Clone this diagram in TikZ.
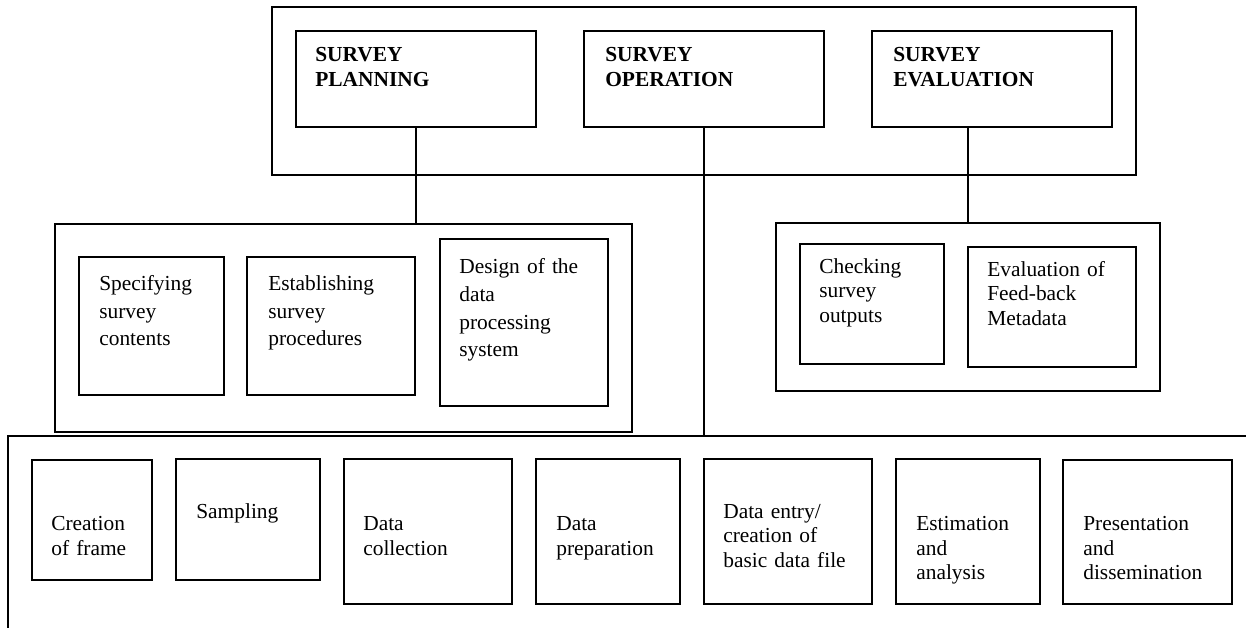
\documentclass[tikz,border=0pt]{standalone}
\usepackage{fontspec}
\setmainfont{Liberation Serif}
\usetikzlibrary{calc}

\begin{document}
\begin{tikzpicture}[x=1pt, y=-1pt,
    box/.style={draw, line width=1.8pt, inner sep=0pt},
    txt/.style={anchor=base west, inner sep=0pt, text width=200pt, align=left,
      font=\fontsize{21.4}{24.5}\selectfont},
    loose/.style={txt, font=\fontsize{21.4}{27.6}\selectfont},
    head/.style={txt, font=\fontsize{21.4}{24.7}\selectfont\bfseries}]
    \clip (0,0) rectangle (1246,627);

    % top level
    \node[box, minimum width=864pt, minimum height=168pt] (top) at (704,91) {};
    \node[box, minimum width=240pt, minimum height=96pt] (plan) at (416,79) {};
    \node[box, minimum width=240pt, minimum height=96pt] (oper) at (704,79) {};
    \node[box, minimum width=240pt, minimum height=96pt] (eval) at (992,79) {};
    \node[head] (planT) at ([shift={(20,31.7)}]plan.north west) {SURVEY\\PLANNING};
    \node[head] (operT) at ([shift={(22,31.7)}]oper.north west) {SURVEY\\OPERATION};
    \node[head] (evalT) at ([shift={(22,31.7)}]eval.north west) {SURVEY\\EVALUATION};

    % planning group
    \node[box, minimum width=577pt, minimum height=208pt] (lbox) at (343.5,328) {};
    \node[box, minimum width=145pt, minimum height=138pt] (spec) at (151.5,326) {};
    \node[box, minimum width=168pt, minimum height=138pt] (estab) at (331,326) {};
    \node[box, minimum width=168pt, minimum height=167pt] (design) at (524,322.5) {};
    \node[loose] (specT) at ([shift={(21,34.6)}]spec.north west) {Specifying\\survey\\contents};
    \node[loose] (estabT) at ([shift={(22,34.6)}]estab.north west) {Establishing\\survey\\procedures};
    \node[loose] (designT) at ([shift={(20,35.7)}]design.north west) {Design of the\\data\\processing\\system};

    % evaluation group
    \node[box, minimum width=384pt, minimum height=168pt] (rbox) at (968,307) {};
    \node[box, minimum width=144pt, minimum height=120pt] (check) at (872,304) {};
    \node[box, minimum width=168pt, minimum height=120pt] (feed) at (1052,307) {};
    \node[txt] (checkT) at ([shift={(20,30.3)}]check.north west) {Checking\\survey\\outputs};
    \node[txt] (feedT) at ([shift={(20,30.3)}]feed.north west) {Evaluation of\\Feed-back\\Metadata};

    % operation group
    \node[box, minimum width=1300pt, minimum height=300pt] (bbox) at (658,586) {};
    \node[box, minimum width=120pt, minimum height=120pt] (creat) at (92,520) {};
    \node[box, minimum width=144pt, minimum height=121pt] (samp) at (248,519.5) {};
    \node[box, minimum width=168pt, minimum height=145pt] (coll) at (428,531.5) {};
    \node[box, minimum width=144pt, minimum height=145pt] (prep) at (608,531.5) {};
    \node[box, minimum width=168pt, minimum height=145pt] (entry) at (788,531.5) {};
    \node[box, minimum width=144pt, minimum height=145pt] (estim) at (968,531.5) {};
    \node[box, minimum width=169pt, minimum height=144pt] (pres) at (1147.5,532) {};
    \node[txt] (creatT) at ([shift={(20,71.7)}]creat.north west) {Creation\\of frame};
    \node[txt] (sampT) at ([shift={(21,60)}]samp.north west) {Sampling};
    \node[txt] (collT) at ([shift={(20,72.7)}]coll.north west) {Data\\collection};
    \node[txt] (prepT) at ([shift={(21,72.7)}]prep.north west) {Data\\preparation};
    \node[txt] (entryT) at ([shift={(20,60)}]entry.north west) {Data entry/\\creation of\\basic data file};
    \node[txt] (estimT) at ([shift={(21,72.7)}]estim.north west) {Estimation\\and\\analysis};
    \node[txt] (presT) at ([shift={(21,71.7)}]pres.north west) {Presentation\\and\\dissemination};

    % connectors
    \draw[line width=1.8pt] (plan.south) -- (plan.south |- lbox.north);
    \draw[line width=1.8pt] (oper.south) -- (oper.south |- bbox.north);
    \draw[line width=1.8pt] (rbox.north |- eval.south) -- (rbox.north);
\end{tikzpicture}
\end{document}
